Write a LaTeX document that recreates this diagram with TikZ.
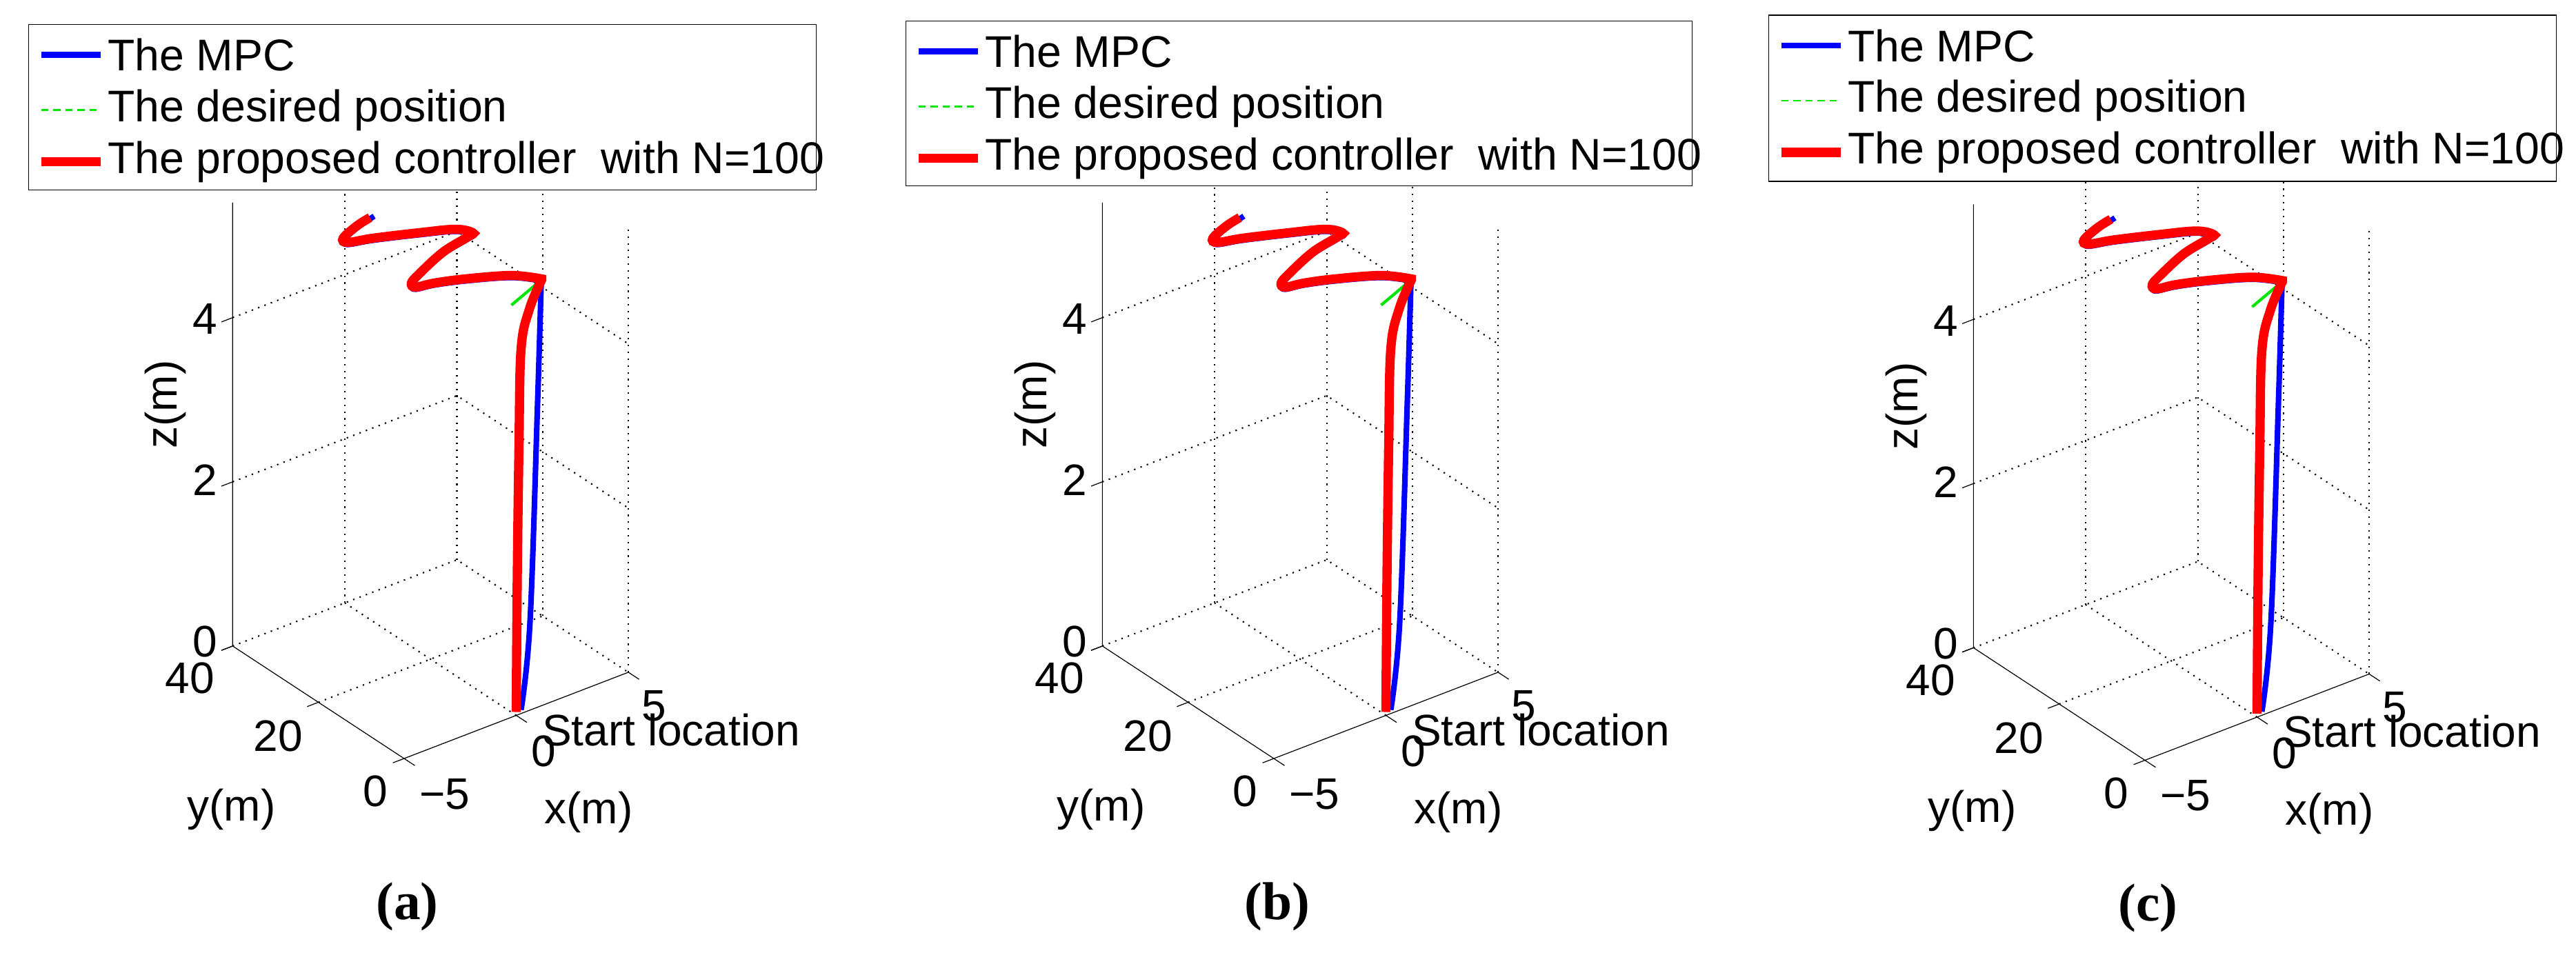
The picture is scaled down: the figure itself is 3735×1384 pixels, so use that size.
\documentclass[tikz,border=0pt]{standalone}
\usepackage{fontspec}
\setmainfont{Liberation Sans}
\newfontfamily\capfont{Liberation Serif}
\tikzset{
 grid3/.style={black,line width=0.6pt,dash pattern=on 0.6pt off 2.2pt},
 axis3/.style={black,line width=0.35pt},
 redtr/.style={red,line width=3.8pt},
 bluetr/.style={blue,line width=2.3pt},
 greentr/.style={green!90!black,line width=0.8pt,dash pattern=on 3pt off 2pt},
 tick/.style={font=\fontsize{18.2}{21}\selectfont},
 leg/.style={font=\fontsize{18.3}{21}\selectfont,anchor=west,inner sep=0pt},
}
\newcommand\mypanel[7]{%
\begin{scope}[shift={(#1,#2)}]
 \begin{scope}[x={(0.325cm,0.125cm)},y={(-0.0621cm,0.04075cm)},z={(0cm,1.19cm)}]
  \foreach \zz in {0,2,4}{
   \draw[grid3] (-5,40,\zz) -- (5,40,\zz) -- (5,0,\zz);}
  \draw[grid3] (0,40,0) -- (0,40,5.4);
  \draw[grid3] (5,40,0) -- (5,40,5.4);
  \draw[grid3] (5,20,0) -- (5,20,5.4);
  \draw[grid3] (5,0,0) -- (5,0,5.4);
  \draw[grid3] (0,0,0) -- (0,40,0);
  \draw[grid3] (-5,20,0) -- (5,20,0);
  \draw[axis3] (-5,40,5.4) -- (-5,40,0) -- (-5,0,0) -- (5,0,0);
  \foreach \zz in {0,2,4}{\draw[axis3] (-5,40,\zz) -- (-5.5,40,\zz);}
  \foreach \yy in {0,20,40}{\draw[axis3] (-5,\yy,0) -- (-5.5,\yy,0);}
  \foreach \xx in {-5,0,5}{\draw[axis3] (\xx,0,0) -- (\xx,-2.5,0);}
 \end{scope}
 \draw[bluetr] plot[smooth,tension=0.6] coordinates {(7,-8) (20,-136) (31,-455) (36,-621)}
   -- plot[smooth,tension=0.6] coordinates {(37,-630) (-7,-635) (-74,-630) (-119,-624) (-146,-618) (-151,-623) (-141,-637) (-106,-669) (-70,-691) (-63,-697) (-88,-702) (-141,-697) (-208,-689) (-244,-683) (-250,-689) (-231,-707) (-206,-724)};
 \draw[greentr] plot[smooth,tension=0.6] coordinates {(37,-630) (-7,-635) (-74,-630) (-119,-624) (-146,-618) (-151,-623) (-141,-637) (-106,-669) (-70,-691) (-63,-697) (-88,-702) (-141,-697) (-208,-689) (-244,-683) (-250,-689) (-231,-707) (-206,-724)};
 \draw[green!90!black,line width=1.2pt] (-7,-595) -- (37,-632);
 \draw[redtr] plot[smooth,tension=0.6] coordinates {(0,-5) (1.5,-200) (4,-391) (7,-531) (19,-589) (37,-632)}
   -- plot[smooth,tension=0.6] coordinates {(37,-633) (-7,-638) (-74,-633) (-119,-627) (-146,-621) (-152,-627) (-141,-640) (-106,-672) (-70,-694) (-63,-700) (-88,-705) (-141,-700) (-208,-692) (-244,-686) (-251,-692) (-231,-710) (-212,-722)};
 \node[tick] (z4) at (-451,-575) {4};
 \node[tick] (z2) at (-451,-341) {2};
 \node[tick] (z0) at (-451,-107) {0};
 \node[tick] (y40) at (-473,-54) {40};
 \node[tick] (y20) at (-345,30) {20};
 \node[tick] (y0) at (-204,110) {0};
 \node[tick] (xm5) at (-104,114) {−5};
 \node[tick] (x0) at (40,52) {0};
 \node[tick] (x5) at (200,-14) {5};
 \node[tick,anchor=west,inner sep=0pt] (start) at (37,21) {Start location};
 \node[tick] (ylab) at (-413,136) {y(m)};
 \node[tick] (xlab) at (105,140) {x(m)};
 \node[tick,rotate=90] (zlab) at (-509,-451) {z(m)};
 \node[font=\capfont\bfseries\fontsize{22}{26}\selectfont] (cap) at (-158,277) {(#7)};
 \draw[fill=white,line width=0.4pt] (#3,#5) rectangle (#4,#6);
 \draw[bluetr] (#3+18,#5+44) -- (#3+104,#5+44);
 \draw[greentr] (#3+18,#5+124) -- (#3+104,#5+124);
 \draw[redtr] (#3+18,#5+199) -- (#3+104,#5+199);
 \node[leg] (l1) at (#3+114,#5+44) {The MPC};
 \node[leg] (l2) at (#3+114,#5+124) {The desired position};
 \node[leg] (l3) at (#3+114,#5+199) {The proposed controller\ \ with N=100};
\end{scope}}
\begin{document}
\begin{tikzpicture}[x=0.01cm,y=-0.01cm]
\useasboundingbox[fill=white] (0,0) rectangle (3735,1384);
\mypanel{748.5}{1037.5}{-707}{435}{-1002}{-762}{a}
\mypanel{2009.5}{1037.5}{-696}{444}{-1007}{-768}{b}
\mypanel{3272.5}{1040}{-708}{434}{-1018}{-777}{c}
\end{tikzpicture}
\end{document}
